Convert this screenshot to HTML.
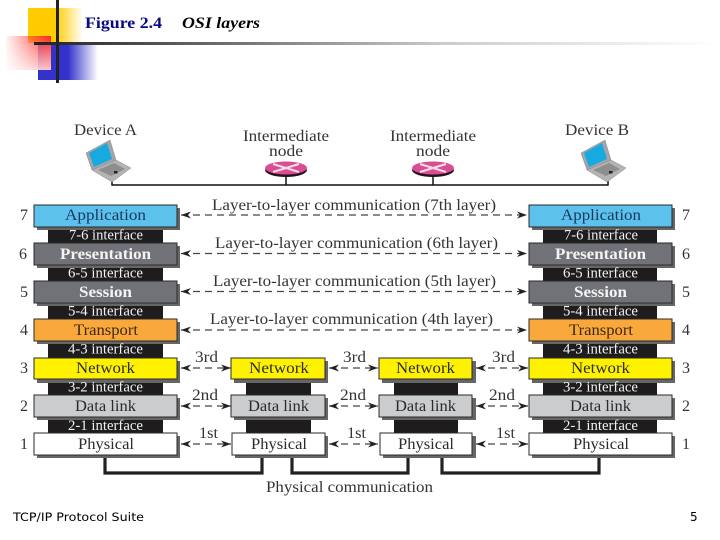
<!DOCTYPE html>
<html><head><meta charset="utf-8"><style>
html,body{margin:0;padding:0;background:#fff}
svg{display:block}
text{font-family:"Liberation Serif",serif}
.l{font-size:15.5px;fill:#2b2b2b}
.w{font-size:14.5px;fill:#f2f2f2}
.c{font-size:15.5px;fill:#333}
.n{font-size:16px;fill:#333}
.d{stroke:#444;stroke-width:1.2;stroke-dasharray:7 5;fill:none}
.box{stroke:#2a2a2a;stroke-width:1}
</style></head><body>
<svg width="720" height="540" viewBox="0 0 720 540" xmlns="http://www.w3.org/2000/svg">
<defs>
<linearGradient id="gy"><stop offset="0" stop-color="#ffcc00"/><stop offset=".5" stop-color="#ffcc00"/><stop offset="1" stop-color="#ffcc00" stop-opacity="0"/></linearGradient>
<linearGradient id="gb"><stop offset="0" stop-color="#3333cc"/><stop offset=".5" stop-color="#3333cc"/><stop offset="1" stop-color="#3333cc" stop-opacity="0"/></linearGradient>
<linearGradient id="gr"><stop offset="0" stop-color="#ff3030" stop-opacity=".05"/><stop offset="1" stop-color="#ff2020"/></linearGradient>
<linearGradient id="gr2" x1="0" y1="0" x2="0" y2="1"><stop offset="0" stop-color="#fff" stop-opacity="0"/><stop offset="1" stop-color="#fff" stop-opacity=".75"/></linearGradient>
<linearGradient id="gl"><stop offset="0" stop-color="#222"/><stop offset=".25" stop-color="#666"/><stop offset=".6" stop-color="#ccc"/><stop offset="1" stop-color="#fff"/></linearGradient>
<marker id="ah" markerWidth="11" markerHeight="8" refX="10" refY="4" orient="auto-start-reverse" markerUnits="userSpaceOnUse"><path d="M0 0.5L10 4L0 7.5L3 4Z" fill="#222"/></marker>
<g id="lap">
<polygon points="86,153 110,140 116,160 92,170" fill="#a2a6aa" stroke="#888" stroke-width=".5"/>
<polygon points="89,153 107,143 112,159 94,167" fill="#18a9e0"/>
<polygon points="92,170 116,160 131,168 112,182" fill="#b4b4b4" stroke="#8a8a8a" stroke-width=".5"/>
<polygon points="98,170 114,163 125,169 111,176" fill="#8e8e8e"/>
<rect x="114" y="171" width="3.500" height="2.500" fill="#222"/>
</g>
<g id="router">
<ellipse cx="0" cy="2" rx="21" ry="7" fill="#2a1020"/>
<ellipse cx="0" cy="0" rx="21" ry="6.500" fill="#d94d92"/>
<path d="M-13 -4L13 4M-13 4L13 -4" stroke="#f5dce8" stroke-width="2"/>
</g>
</defs>

<!-- decoration -->
<rect x="28" y="8" width="55" height="35" fill="url(#gy)"/>
<rect x="38" y="45" width="60" height="35" fill="url(#gb)"/>
<rect x="6" y="36" width="45" height="34" fill="url(#gr)"/>
<rect x="6" y="36" width="45" height="34" fill="url(#gr2)"/>
<rect x="34" y="42" width="686" height="3" fill="url(#gl)"/>
<rect x="56" y="0" width="3" height="83" fill="#222"/>

<text x="85" y="28" style="font-size:16px;font-weight:bold;fill:#0a0a80" textLength="77" lengthAdjust="spacingAndGlyphs">Figure 2.4</text>
<text x="182" y="28" style="font-size:16px;font-weight:bold;font-style:italic;fill:#000" textLength="78" lengthAdjust="spacingAndGlyphs">OSI layers</text>

<g style="filter:blur(.35px)">
<!-- top labels -->
<text x="74" y="135" class="n" textLength="63" lengthAdjust="spacingAndGlyphs">Device A</text>
<text x="243" y="141" class="n" textLength="86" lengthAdjust="spacingAndGlyphs">Intermediate</text>
<text x="269" y="156" class="n" textLength="34" lengthAdjust="spacingAndGlyphs">node</text>
<text x="390" y="141" class="n" textLength="86" lengthAdjust="spacingAndGlyphs">Intermediate</text>
<text x="416" y="156" class="n" textLength="34" lengthAdjust="spacingAndGlyphs">node</text>
<text x="565" y="135" class="n" textLength="64" lengthAdjust="spacingAndGlyphs">Device B</text>

<path d="M112 179V185H608V179M286 171V185M433 171V185" fill="none" stroke="#111" stroke-width="1.500"/>
<use href="#lap"/>
<use href="#lap" x="495"/>
<use href="#router" x="286" y="168"/>
<use href="#router" x="433" y="168"/>

<!-- physical links -->
<path d="M105 456V473H262V456M292 456V473H408V456M442 456V473H599V456" fill="none" stroke="#222" stroke-width="3.200"/>

<!-- black columns -->
<rect x="48" y="226" width="115" height="210" fill="#1e1c1d"/>
<rect x="543" y="226" width="114" height="210" fill="#1e1c1d"/>
<rect x="246" y="378" width="65" height="58" fill="#1e1c1d"/>
<rect x="394" y="378" width="64" height="58" fill="#1e1c1d"/>

<!-- shadows -->
<g fill="#666">
<rect x="37" y="208" width="143" height="22"/><rect x="37" y="246" width="143" height="22"/><rect x="37" y="284" width="143" height="22"/><rect x="37" y="322" width="143" height="22"/><rect x="37" y="361" width="143" height="22"/><rect x="37" y="398" width="143" height="22"/><rect x="37" y="436" width="143" height="22"/>
<rect x="532" y="208" width="143" height="22"/><rect x="532" y="246" width="143" height="22"/><rect x="532" y="284" width="143" height="22"/><rect x="532" y="322" width="143" height="22"/><rect x="532" y="361" width="143" height="22"/><rect x="532" y="398" width="143" height="22"/><rect x="532" y="436" width="143" height="22"/>
<rect x="234" y="361" width="94" height="22"/><rect x="234" y="398" width="94" height="22"/><rect x="235" y="436" width="93" height="22"/>
<rect x="382" y="361" width="94" height="22"/><rect x="382" y="398" width="94" height="22"/><rect x="383" y="436" width="93" height="22"/>
</g>
<!-- re-cover interface gaps with black -->
<rect x="48" y="230" width="115" height="13" fill="#1e1c1d"/><rect x="48" y="268" width="115" height="13" fill="#1e1c1d"/><rect x="48" y="306" width="115" height="13" fill="#1e1c1d"/><rect x="48" y="344" width="115" height="14" fill="#1e1c1d"/><rect x="48" y="383" width="115" height="12" fill="#1e1c1d"/><rect x="48" y="420" width="115" height="13" fill="#1e1c1d"/>
<rect x="543" y="230" width="114" height="13" fill="#1e1c1d"/><rect x="543" y="268" width="114" height="13" fill="#1e1c1d"/><rect x="543" y="306" width="114" height="13" fill="#1e1c1d"/><rect x="543" y="344" width="114" height="14" fill="#1e1c1d"/><rect x="543" y="383" width="114" height="12" fill="#1e1c1d"/><rect x="543" y="420" width="114" height="13" fill="#1e1c1d"/>
<rect x="246" y="383" width="65" height="12" fill="#1e1c1d"/><rect x="246" y="420" width="65" height="13" fill="#1e1c1d"/>
<rect x="394" y="383" width="64" height="12" fill="#1e1c1d"/><rect x="394" y="420" width="64" height="13" fill="#1e1c1d"/>

<!-- boxes -->
<g class="box">
<rect x="34" y="205" width="143" height="22" fill="#5cc2ec"/>
<rect x="34" y="243" width="143" height="22" fill="#707277"/>
<rect x="34" y="281" width="143" height="22" fill="#707277"/>
<rect x="34" y="319" width="143" height="22" fill="#f9a83c"/>
<rect x="34" y="358" width="143" height="21" fill="#fff200"/>
<rect x="34" y="395" width="143" height="22" fill="#cbcccd"/>
<rect x="34" y="433" width="143" height="22" fill="#fff"/>
<rect x="529" y="205" width="143" height="22" fill="#5cc2ec"/>
<rect x="529" y="243" width="143" height="22" fill="#707277"/>
<rect x="529" y="281" width="143" height="22" fill="#707277"/>
<rect x="529" y="319" width="143" height="22" fill="#f9a83c"/>
<rect x="529" y="358" width="143" height="21" fill="#fff200"/>
<rect x="529" y="395" width="143" height="22" fill="#cbcccd"/>
<rect x="529" y="433" width="143" height="22" fill="#fff"/>
<rect x="231" y="358" width="94" height="21" fill="#fff200"/>
<rect x="231" y="395" width="94" height="22" fill="#cbcccd"/>
<rect x="232" y="433" width="93" height="22" fill="#fff"/>
<rect x="379" y="358" width="93" height="21" fill="#fff200"/>
<rect x="379" y="395" width="93" height="22" fill="#cbcccd"/>
<rect x="380" y="433" width="92" height="22" fill="#fff"/>
</g>

<!-- left text -->
<text x="65" y="220" class="l" style="fill:#17385f" textLength="81" lengthAdjust="spacingAndGlyphs">Application</text>
<text x="60" y="259" class="l" style="fill:#f4f4f4;font-weight:bold" textLength="91" lengthAdjust="spacingAndGlyphs">Presentation</text>
<text x="79" y="297" class="l" style="fill:#f4f4f4;font-weight:bold" textLength="53" lengthAdjust="spacingAndGlyphs">Session</text>
<text x="74" y="335" class="l" style="fill:#402510" textLength="64" lengthAdjust="spacingAndGlyphs">Transport</text>
<text x="76" y="373" class="l" textLength="59" lengthAdjust="spacingAndGlyphs">Network</text>
<text x="75" y="411" class="l" textLength="61" lengthAdjust="spacingAndGlyphs">Data link</text>
<text x="78" y="449" class="l" textLength="56" lengthAdjust="spacingAndGlyphs">Physical</text>
<text x="69" y="239.500" class="w" textLength="74" lengthAdjust="spacingAndGlyphs">7-6 interface</text>
<text x="68" y="277.500" class="w" textLength="75" lengthAdjust="spacingAndGlyphs">6-5 interface</text>
<text x="68" y="315.500" class="w" textLength="75" lengthAdjust="spacingAndGlyphs">5-4 interface</text>
<text x="68" y="353.500" class="w" textLength="75" lengthAdjust="spacingAndGlyphs">4-3 interface</text>
<text x="68" y="391.500" class="w" textLength="75" lengthAdjust="spacingAndGlyphs">3-2 interface</text>
<text x="68" y="430" class="w" textLength="75" lengthAdjust="spacingAndGlyphs">2-1 interface</text>

<!-- right text -->
<text x="561" y="220" class="l" style="fill:#17385f" textLength="80" lengthAdjust="spacingAndGlyphs">Application</text>
<text x="555" y="259" class="l" style="fill:#f4f4f4;font-weight:bold" textLength="91" lengthAdjust="spacingAndGlyphs">Presentation</text>
<text x="574" y="297" class="l" style="fill:#f4f4f4;font-weight:bold" textLength="53" lengthAdjust="spacingAndGlyphs">Session</text>
<text x="569" y="335" class="l" style="fill:#402510" textLength="64" lengthAdjust="spacingAndGlyphs">Transport</text>
<text x="571" y="373" class="l" textLength="59" lengthAdjust="spacingAndGlyphs">Network</text>
<text x="570" y="411" class="l" textLength="61" lengthAdjust="spacingAndGlyphs">Data link</text>
<text x="573" y="449" class="l" textLength="56" lengthAdjust="spacingAndGlyphs">Physical</text>
<text x="564" y="239.500" class="w" textLength="74" lengthAdjust="spacingAndGlyphs">7-6 interface</text>
<text x="563" y="277.500" class="w" textLength="75" lengthAdjust="spacingAndGlyphs">6-5 interface</text>
<text x="563" y="315.500" class="w" textLength="75" lengthAdjust="spacingAndGlyphs">5-4 interface</text>
<text x="563" y="353.500" class="w" textLength="75" lengthAdjust="spacingAndGlyphs">4-3 interface</text>
<text x="563" y="391.500" class="w" textLength="75" lengthAdjust="spacingAndGlyphs">3-2 interface</text>
<text x="563" y="430" class="w" textLength="75" lengthAdjust="spacingAndGlyphs">2-1 interface</text>

<!-- middle stacks text -->
<text x="249" y="373" class="l" textLength="60" lengthAdjust="spacingAndGlyphs">Network</text>
<text x="248" y="411" class="l" textLength="61" lengthAdjust="spacingAndGlyphs">Data link</text>
<text x="251" y="449" class="l" textLength="56" lengthAdjust="spacingAndGlyphs">Physical</text>
<text x="396" y="373" class="l" textLength="59" lengthAdjust="spacingAndGlyphs">Network</text>
<text x="395" y="411" class="l" textLength="61" lengthAdjust="spacingAndGlyphs">Data link</text>
<text x="398" y="449" class="l" textLength="56" lengthAdjust="spacingAndGlyphs">Physical</text>

<!-- numbers -->
<g text-anchor="middle">
<text x="24" y="220" class="n">7</text><text x="23" y="259" class="n">6</text><text x="24" y="297" class="n">5</text><text x="24" y="335" class="n">4</text><text x="24" y="373" class="n">3</text><text x="24" y="411" class="n">2</text><text x="24" y="449" class="n">1</text>
<text x="686" y="220" class="n">7</text><text x="686" y="259" class="n">6</text><text x="686" y="297" class="n">5</text><text x="686" y="335" class="n">4</text><text x="686" y="373" class="n">3</text><text x="686" y="411" class="n">2</text><text x="686" y="449" class="n">1</text>
</g>

<!-- arrows -->
<path class="d" d="M181 215H527" marker-start="url(#ah)" marker-end="url(#ah)"/>
<path class="d" d="M181 253.500H527" marker-start="url(#ah)" marker-end="url(#ah)"/>
<path class="d" d="M181 291.500H527" marker-start="url(#ah)" marker-end="url(#ah)"/>
<path class="d" d="M181 330H527" marker-start="url(#ah)" marker-end="url(#ah)"/>
<path class="d" d="M181 368H231" marker-start="url(#ah)" marker-end="url(#ah)"/>
<path class="d" d="M181 406H231" marker-start="url(#ah)" marker-end="url(#ah)"/>
<path class="d" d="M181 444H231" marker-start="url(#ah)" marker-end="url(#ah)"/>
<path class="d" d="M329 368H378" marker-start="url(#ah)" marker-end="url(#ah)"/>
<path class="d" d="M329 406H378" marker-start="url(#ah)" marker-end="url(#ah)"/>
<path class="d" d="M329 444H378" marker-start="url(#ah)" marker-end="url(#ah)"/>
<path class="d" d="M476 368H528" marker-start="url(#ah)" marker-end="url(#ah)"/>
<path class="d" d="M476 406H528" marker-start="url(#ah)" marker-end="url(#ah)"/>
<path class="d" d="M476 444H528" marker-start="url(#ah)" marker-end="url(#ah)"/>

<!-- labels -->
<text x="212" y="210" class="c" textLength="284" lengthAdjust="spacingAndGlyphs">Layer-to-layer communication (7th layer)</text>
<text x="215" y="248" class="c" textLength="283" lengthAdjust="spacingAndGlyphs">Layer-to-layer communication (6th layer)</text>
<text x="213" y="286" class="c" textLength="283" lengthAdjust="spacingAndGlyphs">Layer-to-layer communication (5th layer)</text>
<text x="210" y="324" class="c" textLength="283" lengthAdjust="spacingAndGlyphs">Layer-to-layer communication (4th layer)</text>

<text x="195" y="362" class="c" textLength="23" lengthAdjust="spacingAndGlyphs">3rd</text>
<text x="192" y="400" class="c" textLength="26" lengthAdjust="spacingAndGlyphs">2nd</text>
<text x="199" y="438" class="c" textLength="19" lengthAdjust="spacingAndGlyphs">1st</text>
<text x="343" y="362" class="c" textLength="23" lengthAdjust="spacingAndGlyphs">3rd</text>
<text x="340" y="400" class="c" textLength="26" lengthAdjust="spacingAndGlyphs">2nd</text>
<text x="347" y="438" class="c" textLength="19" lengthAdjust="spacingAndGlyphs">1st</text>
<text x="492" y="362" class="c" textLength="23" lengthAdjust="spacingAndGlyphs">3rd</text>
<text x="489" y="400" class="c" textLength="26" lengthAdjust="spacingAndGlyphs">2nd</text>
<text x="496" y="438" class="c" textLength="19" lengthAdjust="spacingAndGlyphs">1st</text>

<text x="266" y="492" class="c" textLength="167" lengthAdjust="spacingAndGlyphs">Physical communication</text>
</g>

<text x="13" y="521" style='font-family:"DejaVu Sans",sans-serif;font-size:11.5px;fill:#000' textLength="131" lengthAdjust="spacingAndGlyphs">TCP/IP Protocol Suite</text>
<text x="690" y="521" style='font-family:"DejaVu Sans",sans-serif;font-size:12px;fill:#000'>5</text>
</svg>
</body></html>
